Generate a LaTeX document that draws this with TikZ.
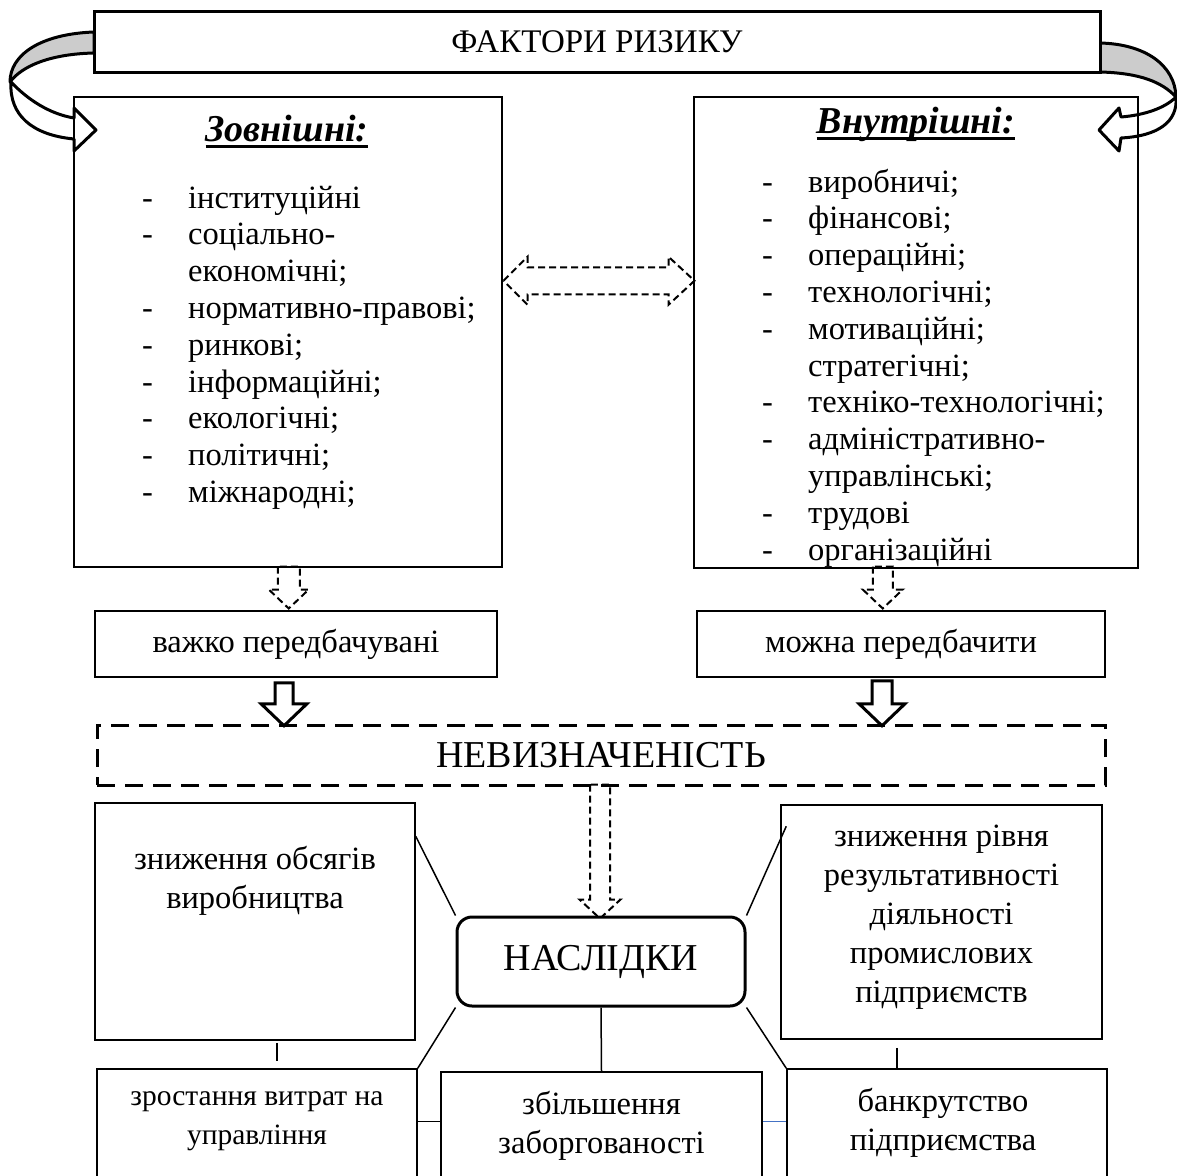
\documentclass[tikz,border=0pt]{standalone}
\usepackage{fontspec}
\setmainfont{Liberation Serif}
\usetikzlibrary{positioning, calc}

% heading with a heavy underline
\newcommand{\thickul}[1]{\setbox0=\hbox{#1}\rlap{\rule[-6.5pt]{\wd0}{2.5pt}}\box0}
% list marks
\newcommand{\riskdash}{\makebox[46pt][l]{-}}
\newcommand{\riskgap}{\hspace*{46pt}}
\newcommand{\cellstack}[1]{\begin{tabular}[t]{@{}c@{}}#1\end{tabular}}
% hollow block arrow pointing down: style, top, shaft half, head half, shaft length, head length
\newcommand{\blockdown}[6]{\path[#1] (#2) ++(-#3,0) -- ++(0,#5) -- ++(#3-#4,0) -- ++(#4,#6) -- ++(#4,-#6) -- ++(#3-#4,0) -- ++(0,-#5) -- cycle;}

\begin{document}
\begin{tikzpicture}[
		x=1pt, y=-1pt,
		every node/.style={inner sep=0pt, font=\fontsize{32.5}{36.8}\selectfont},
		big/.style={font=\fontsize{38}{42}\selectfont},
		head/.style={font=\fontsize{38}{42}\selectfont\bfseries\itshape, anchor=base},
		stacktext/.style={font=\fontsize{32.5}{39}\selectfont, anchor=base},
		thickbox/.style={draw, line width=3pt, fill=white},
		box/.style={draw, line width=1.5pt},
		link/.style={line width=1.5pt},
		dashedarrow/.style={draw, line width=2pt, dash pattern=on 7pt off 4pt},
		solidarrow/.style={draw, line width=3pt, fill=white, line join=miter},
		ribbon/.style={draw, line width=3pt, line join=round}
		]
		
		\path[use as bounding box] (0,0) rectangle (1177,1175);
		\clip (0,0) rectangle (1177,1175);
		
		% curved arrows round the title
		\filldraw[ribbon, fill=gray!40] (94,32) .. controls (40,34) and (10,55) .. (10,82) .. controls (22,66) and (50,54) .. (94,53) -- cycle;
		\filldraw[ribbon, fill=white] (11,82) .. controls (28,100) and (50,114) .. (74,118) -- (74,108) -- (96,130) -- (74,151) -- (74,139) .. controls (32,135) and (9,115) .. (11,82) -- cycle;
		\filldraw[ribbon, fill=gray!40] (1100,43) .. controls (1145,44) and (1175,65) .. (1176,97) .. controls (1162,82) and (1140,73) .. (1100,72) -- cycle;
		\filldraw[ribbon, fill=white] (1176,97) .. controls (1165,108) and (1145,115) .. (1121,117) -- (1119,108) -- (1099,130) -- (1119,151) -- (1121,138) .. controls (1158,136) and (1178,122) .. (1176,97) -- cycle;
		
		\node [thickbox, font=\fontsize{33}{38}\selectfont, minimum width=1006pt, minimum height=61pt] (title) at (597,41.5) {ФАКТОРИ РИЗИКУ};
		
		% factor boxes
		\node [box, anchor=north west, minimum width=428pt, minimum height=470pt] (ext) at (73,96) {};
		\node [box, anchor=north west, minimum width=444pt, minimum height=471pt] (int) at (693,96) {};
		
		\node [head] (exthead) at (287,141) {\thickul{Зовнішні:}};
		\node [head] (inthead) at (916,133) {\thickul{Внутрішні:}};
		
		\node [anchor=base west] (extlist) at (142,208) {\begin{tabular}[t]{@{}l@{}}
				\riskdash інституційні\\
				\riskdash соціально-\\
				\riskgap економічні;\\
				\riskdash нормативно-правові;\\
				\riskdash ринкові;\\
				\riskdash інформаційні;\\
				\riskdash екологічні;\\
				\riskdash політичні;\\
				\riskdash міжнародні;
			\end{tabular}};
		\node [anchor=base west] (intlist) at (762,192) {\begin{tabular}[t]{@{}l@{}}
				\riskdash виробничі;\\
				\riskdash фінансові;\\
				\riskdash операційні;\\
				\riskdash технологічні;\\
				\riskdash мотиваційні;\\
				\riskgap стратегічні;\\
				\riskdash техніко-технологічні;\\
				\riskdash адміністративно-\\
				\riskgap управлінські;\\
				\riskdash трудові\\
				\riskdash організаційні
			\end{tabular}};
		
		% two-way link between the factor groups
		\coordinate (dl) at ($(ext.east)+(1,-51)$);
		\draw [dashedarrow] (dl) -- ++(24,-24) -- ++(0,10.5) -- ++(141,0) -- ++(0,-10.5) -- ++(26,24) -- ++(-26,24) -- ++(0,-10.5) -- ++(-141,0) -- ++(0,10.5) -- cycle;
		
		% predictability
		\blockdown{dashedarrow}{$(ext.south)+(1,-1)$}{11}{20}{23}{19}
		\blockdown{dashedarrow}{$(int.south)+(-33,-2)$}{10}{20}{23}{19}
		
		\node [box, minimum width=402pt, minimum height=66pt] (hard) at (296,644) {важко передбачувані};
		\node [box, minimum width=408pt, minimum height=66pt] (can) at (901,644) {можна передбачити};
		
		\blockdown{solidarrow}{$(hard.south)+(-12,5)$}{9}{23}{21}{22}
		\blockdown{solidarrow}{$(can.south)+(-19,3)$}{10}{23}{23}{22}
		
		\node [big, draw, line width=3pt, dash pattern=on 18pt off 10pt, minimum width=1008pt, minimum height=60pt] (unc) at (601,755) {НЕВИЗНАЧЕНІСТЬ};
		
		\blockdown{dashedarrow}{$(unc.south)+(-1,-2)$}{10}{20.5}{115}{19}
		
		% consequences
		\node [big, thickbox, rounded corners=15pt, minimum width=288pt, minimum height=89pt] (cons) at (601,961.5) {НАСЛІДКИ};
		
		\node [box, minimum width=320pt, minimum height=237pt] (prod) at (255,921.5) {};
		\node [box, minimum width=321pt, minimum height=234pt] (perf) at (941.5,922) {};
		\node [box, minimum width=320pt, minimum height=131pt] (cost) at (257,1134.5) {};
		\node [box, minimum width=321pt, minimum height=128pt] (debt) at (601.5,1136) {};
		\node [box, minimum width=320pt, minimum height=131pt] (bankr) at (947,1134.5) {};
		
		\node [stacktext] (prodtext) at ($(prod.north)+(0,67)$) {\cellstack{зниження обсягів\\виробництва}};
		\node [stacktext] (perftext) at ($(perf.north)+(0,42)$) {\cellstack{зниження рівня\\результативності\\діяльності\\промислових\\підприємств}};
		\node [stacktext, font=\fontsize{29.5}{39}\selectfont] (costtext) at ($(cost.north)+(0,37)$) {\cellstack{зростання витрат на\\управління}};
		\node [stacktext] (debttext) at ($(debt.north)+(0,43)$) {\cellstack{збільшення\\заборгованості}};
		\node [stacktext] (bankrtext) at ($(bankr.north)+(-4,43)$) {\cellstack{банкрутство\\підприємства}};
		
		\draw [link] ($(prod.north east)+(0,34)$) -- (cons.north west);
		\draw [link] (cons.south west) -- (cost.north east);
		\draw [link] (cons.north east) -- ($(perf.north west)+(6,22)$);
		\draw [link] (cons.south east) -- (bankr.north west);
		\draw [link] (cons.south) -- (debt.north);
		\draw [link] ($(prod.south)+(22,2)$) -- ($(cost.north)+(20,-7)$);
		\draw [link] ($(perf.south)+(-44.5,8)$) -- ($(bankr.north)+(-50,0)$);
		\draw [link] ($(cost.north east)+(0,53)$) -- ($(debt.north west)+(0,50)$);
		\draw [link, draw={rgb,255:red,68;green,114;blue,196}] ($(debt.north east)+(0,50)$) -- ($(bankr.north west)+(0,53)$);
		
	\end{tikzpicture}
\end{document}
